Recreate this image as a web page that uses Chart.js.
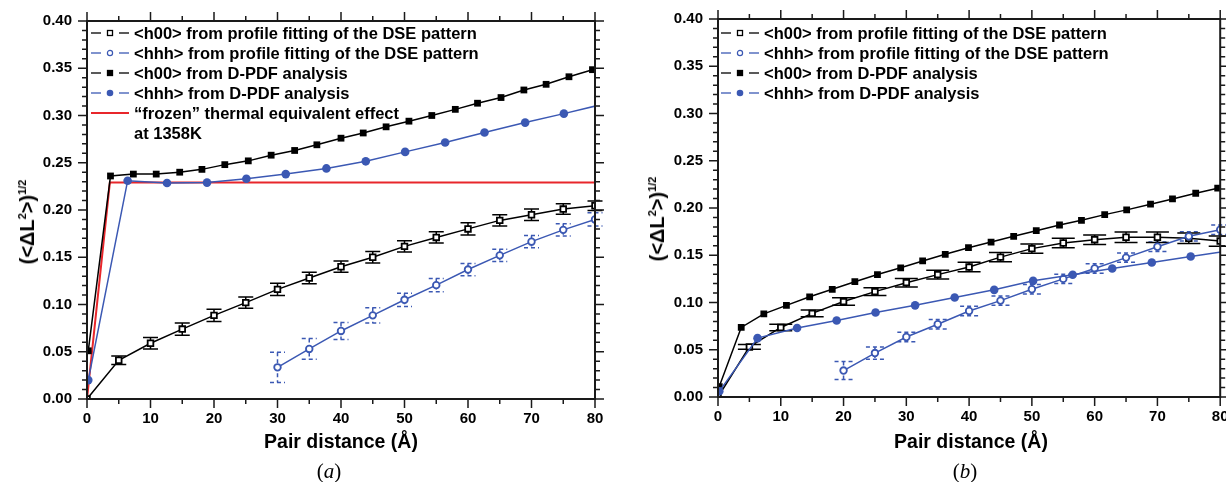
<!DOCTYPE html>
<html lang="en">
<head>
  <meta charset="UTF-8" />
  <title>Pair distance dependence of displacement</title>
  <script src="https://cdn.jsdelivr.net/npm/chart.js"></script>
  <style>
    html, body {
      margin: 0;
      padding: 0;
      background: #fff;
    }

    body {
      position: relative;
      width: 1226px;
      height: 482px;
      overflow: hidden;
      font-family: "Liberation Sans", Arial, sans-serif;
      color: #000;
    }

    .panel {
      position: absolute;
      top: 0;
      height: 482px;
    }

    #panelA { left: 0; width: 610px; }
    #panelB { left: 610px; width: 616px; }

    .legend {
      position: absolute;
      top: 23px;
      font-weight: bold;
      font-size: 16.5px;
    }

    .legend .row {
      display: flex;
      align-items: center;
      height: 20px;
      white-space: nowrap;
    }

    .legend svg {
      flex: none;
      margin-right: 5px;
    }

    .legend .cont {
      padding-left: 43px;
    }

    .ytitle {
      position: absolute;
      font-weight: bold;
      font-size: 20px;
      line-height: 1;
      white-space: nowrap;
      transform: translate(-50%, -50%) rotate(-90deg);
    }

    .ytitle sup {
      font-size: 11px;
      vertical-align: 8px;
    }

    .xtitle {
      position: absolute;
      font-weight: bold;
      font-size: 19.5px;
      white-space: nowrap;
      transform: translate(-50%, -50%);
    }

    .caption {
      position: absolute;
      font-family: "Liberation Serif", "Times New Roman", serif;
      font-size: 21px;
      transform: translate(-50%, -50%);
    }
  </style>
</head>
<body>
  <div class="panel" id="panelA"><canvas id="chartA"></canvas></div>
  <div class="panel" id="panelB"><canvas id="chartB"></canvas></div>

  <div class="legend" id="legendA" style="left:91px"></div>
  <div class="legend" id="legendB" style="left:721px"></div>

  <div class="ytitle" style="left:27px; top:222px">(&lt;&Delta;L<sup>2</sup>&gt;)<sup>1/2</sup></div>
  <div class="ytitle" style="left:657px; top:219px">(&lt;&Delta;L<sup>2</sup>&gt;)<sup>1/2</sup></div>
  <div class="xtitle" style="left:341px; top:441px">Pair distance (Å)</div>
  <div class="xtitle" style="left:971px; top:441px">Pair distance (Å)</div>
  <div class="caption" style="left:329px; top:471px">(<i>a</i>)</div>
  <div class="caption" style="left:965px; top:471px">(<i>b</i>)</div>

  <script>
    // --- panel (a) ---
    const fitDist = [0, 5, 10, 15, 20, 25, 30, 35, 40, 45, 50, 55, 60, 65, 70, 75, 80];
    const h00FitA = [0, 0.041, 0.059, 0.074, 0.0885, 0.102, 0.116, 0.128, 0.140, 0.150, 0.1615, 0.171, 0.180, 0.189, 0.195, 0.201, 0.2045];
    const h00FitErrA = [0, 0.0045, 0.006, 0.0065, 0.0065, 0.006, 0.0065, 0.006, 0.006, 0.006, 0.006, 0.006, 0.0065, 0.006, 0.006, 0.0055, 0.005];

    const hhhFitDistA = [30, 35, 40, 45, 50, 55, 60, 65, 70, 75, 80];
    const hhhFitA = [0.0335, 0.053, 0.072, 0.0885, 0.105, 0.1205, 0.137, 0.152, 0.1665, 0.179, 0.190];
    const hhhFitErrA = [0.016, 0.011, 0.009, 0.008, 0.007, 0.007, 0.0065, 0.0065, 0.0065, 0.0065, 0.007];

    const h00PdfDistA = [0.2, 3.7, 7.3, 10.9, 14.6, 18.1, 21.7, 25.4, 29.0, 32.7, 36.2, 40.0, 43.5, 47.1, 50.7, 54.3, 58.0, 61.5, 65.2, 68.8, 72.3, 75.9, 79.6];
    const h00PdfA = [0.051, 0.236, 0.238, 0.238, 0.240, 0.243, 0.248, 0.252, 0.258, 0.263, 0.269, 0.276, 0.2815, 0.288, 0.294, 0.300, 0.3065, 0.313, 0.319, 0.327, 0.333, 0.341, 0.3485];

    const hhhPdfDistA = [0.2, 6.4, 12.6, 18.9, 25.1, 31.3, 37.7, 43.9, 50.1, 56.4, 62.6, 69.0, 75.1, 81.3];
    const hhhPdfA = [0.020, 0.231, 0.2286, 0.229, 0.233, 0.238, 0.244, 0.2515, 0.2615, 0.2715, 0.282, 0.2925, 0.302, 0.312];

    const frozenDist = [0, 3.6, 80];
    const frozenA = [0, 0.229, 0.229];

    // --- panel (b) ---
    const h00FitB = [0, 0.053, 0.0736, 0.0885, 0.101, 0.1115, 0.121, 0.1295, 0.1375, 0.148, 0.157, 0.163, 0.1665, 0.169, 0.169, 0.168, 0.165];
    const h00FitErrB = [0, 0.0025, 0.0035, 0.0035, 0.004, 0.004, 0.0045, 0.0045, 0.005, 0.005, 0.005, 0.005, 0.005, 0.0055, 0.0055, 0.0055, 0.0055];

    const hhhFitDistB = [20, 25, 30, 35, 40, 45, 50, 55, 60, 65, 70, 75, 80];
    const hhhFitB = [0.028, 0.0465, 0.0635, 0.077, 0.091, 0.102, 0.114, 0.125, 0.136, 0.1475, 0.159, 0.170, 0.177];
    const hhhFitErrB = [0.0095, 0.0065, 0.005, 0.005, 0.005, 0.005, 0.005, 0.005, 0.005, 0.005, 0.005, 0.005, 0.005];

    const h00PdfDistB = [0.2, 3.7, 7.3, 10.9, 14.6, 18.2, 21.8, 25.4, 29.1, 32.6, 36.2, 39.9, 43.5, 47.1, 50.7, 54.4, 57.9, 61.6, 65.1, 68.9, 72.4, 76.1, 79.6];
    const h00PdfB = [0.011, 0.0736, 0.088, 0.097, 0.106, 0.114, 0.122, 0.1296, 0.1367, 0.144, 0.151, 0.158, 0.164, 0.170, 0.176, 0.182, 0.187, 0.193, 0.198, 0.204, 0.2096, 0.2156, 0.221];

    const hhhPdfDistB = [0.2, 6.3, 12.6, 18.9, 25.1, 31.4, 37.7, 44.0, 50.2, 56.5, 62.8, 69.1, 75.3, 81.6];
    const hhhPdfB = [0.006, 0.0623, 0.073, 0.081, 0.0894, 0.097, 0.1053, 0.1134, 0.1229, 0.1293, 0.136, 0.1423, 0.1486, 0.155];

    const legendLabels = [
      '<h00> from profile fitting of the DSE pattern',
      '<hhh> from profile fitting of the DSE pattern',
      '<h00> from D-PDF analysis',
      '<hhh> from D-PDF analysis'
    ];
    const frozenLabel = ['\u201Cfrozen\u201D thermal equivalent effect', 'at 1358K'];

    const BLACK = '#000000';
    const BLUE = '#3b58b3';
    const RED = '#e8262b';
    const FONT = '"Liberation Sans", Arial, sans-serif';

    const pts = (xs, ys) => xs.map((x, i) => ({ x, y: ys[i] }));

    const styles = [
      { color: BLACK, marker: 'rect', filled: false },
      { color: BLUE, marker: 'circle', filled: false },
      { color: BLACK, marker: 'rect', filled: true },
      { color: BLUE, marker: 'circle', filled: true }
    ];

    function seriesSet(s, data, extra) {
      return Object.assign({
        data,
        showLine: true,
        borderColor: s.color,
        borderWidth: 1.5,
        pointStyle: s.marker,
        pointRadius: s.marker === 'rect' ? (s.filled ? 4.8 : 4) : (s.filled ? 4.3 : 3.3),
        pointBorderWidth: s.filled ? 0 : 1.8,
        pointBackgroundColor: s.filled ? s.color : '#fff',
        pointBorderColor: s.color,
        tension: 0
      }, extra || {});
    }

    // error bars under the markers
    const errorBars = {
      id: 'errorBars',
      beforeDatasetsDraw(chart) {
        const { ctx, scales: { x, y } } = chart;
        chart.data.datasets.forEach(ds => {
          if (!ds.errors) return;
          ctx.save();
          ctx.strokeStyle = ds.borderColor;
          ctx.lineWidth = 1.5;
          ctx.setLineDash(ds.errorDash || []);
          ds.data.forEach((p, i) => {
            const e = ds.errors[i];
            if (!e) return;
            const px = x.getPixelForValue(p.x);
            const top = y.getPixelForValue(p.y + e);
            const bot = y.getPixelForValue(p.y - e);
            const w = ds.capWidth / 2;
            ctx.beginPath();
            ctx.moveTo(px, top); ctx.lineTo(px, bot);
            ctx.moveTo(px - w, top); ctx.lineTo(px + w, top);
            ctx.moveTo(px - w, bot); ctx.lineTo(px + w, bot);
            ctx.stroke();
          });
          ctx.restore();
        });
      }
    };

    const isMajorY = v => Math.abs(v * 20 - Math.round(v * 20)) < 1e-6;

    // box frame with outward ticks on all four sides
    const frameTicks = {
      id: 'frameTicks',
      afterDraw(chart) {
        const { ctx, chartArea: a, scales: { x, y } } = chart;
        ctx.save();
        ctx.strokeStyle = '#1a1a1a';
        ctx.lineWidth = 1.5;
        ctx.beginPath();
        x.ticks.forEach(t => {
          const px = x.getPixelForValue(t.value);
          const len = t.value % 10 === 0 ? 9 : 5;
          ctx.moveTo(px, a.bottom); ctx.lineTo(px, a.bottom + len);
          ctx.moveTo(px, a.top); ctx.lineTo(px, a.top - len);
        });
        y.ticks.forEach(t => {
          const py = y.getPixelForValue(t.value);
          const len = isMajorY(t.value) ? 9 : 5;
          ctx.moveTo(a.left, py); ctx.lineTo(a.left - len, py);
          ctx.moveTo(a.right, py); ctx.lineTo(a.right + len, py);
        });
        ctx.stroke();
        ctx.lineWidth = 2;
        ctx.strokeRect(a.left, a.top, a.right - a.left, a.bottom - a.top);
        ctx.restore();
      }
    };

    function buildChart(id, datasets, geo) {
      const tickFont = { family: FONT, size: 15, weight: 'bold' };
      return new Chart(document.getElementById(id), {
        type: 'scatter',
        data: { datasets },
        options: {
          responsive: true,
          maintainAspectRatio: false,
          animation: false,
          events: [],
          layout: { padding: { left: 0, right: geo.right, top: geo.top, bottom: 0 } },
          plugins: { legend: { display: false }, tooltip: { enabled: false } },
          scales: {
            x: {
              type: 'linear', min: 0, max: 80,
              grid: { display: false, drawTicks: false },
              border: { display: false },
              ticks: {
                stepSize: 5, autoSkip: false, maxRotation: 0, maxTicksLimit: 100,
                padding: 11, color: '#000', font: tickFont,
                callback: v => (v % 10 === 0 ? v : '')
              },
              afterFit: s => { s.height = geo.xHeight; s.paddingLeft = 0; s.paddingRight = 0; }
            },
            y: {
              type: 'linear', min: 0, max: 0.4,
              grid: { display: false, drawTicks: false },
              border: { display: false },
              ticks: {
                stepSize: 0.01, autoSkip: false, maxTicksLimit: 100,
                padding: 15, color: '#000', font: tickFont,
                callback: v => (isMajorY(v) ? v.toFixed(2) : '')
              },
              afterFit: s => { s.width = geo.yWidth; s.paddingTop = 0; s.paddingBottom = 0; }
            }
          }
        },
        plugins: [errorBars, frameTicks]
      });
    }

    buildChart('chartA', [
      seriesSet(styles[3], pts(hhhPdfDistA, hhhPdfA)),
      seriesSet(styles[2], pts(h00PdfDistA, h00PdfA)),
      seriesSet(styles[1], pts(hhhFitDistA, hhhFitA), { errors: hhhFitErrA, errorDash: [4, 3], capWidth: 15 }),
      seriesSet(styles[0], pts(fitDist, h00FitA), { errors: h00FitErrA, capWidth: 15 }),
      { data: pts(frozenDist, frozenA), showLine: true, borderColor: RED, borderWidth: 2, pointRadius: 0, tension: 0 }
    ], { right: 15, top: 21, xHeight: 83, yWidth: 87 });

    buildChart('chartB', [
      seriesSet(styles[3], pts(hhhPdfDistB, hhhPdfB)),
      seriesSet(styles[2], pts(h00PdfDistB, h00PdfB)),
      seriesSet(styles[1], pts(hhhFitDistB, hhhFitB), { errors: hhhFitErrB, errorDash: [4, 3], capWidth: 18 }),
      seriesSet(styles[0], pts(fitDist, h00FitB), { errors: h00FitErrB, capWidth: 23 })
    ], { right: 1, top: 19, xHeight: 85, yWidth: 108 });

    // legends (HTML text, small svg samples)
    function sampleSvg(s) {
      if (!s) {
        return '<svg width="38" height="12"><line x1="0" y1="6" x2="38" y2="6" stroke="' + RED + '" stroke-width="2"/></svg>';
      }
      let mark;
      if (s.marker === 'rect') {
        mark = '<rect x="16.5" y="3.5" width="5" height="5" fill="' + (s.filled ? s.color : '#fff') + '" stroke="' + s.color + '" stroke-width="1.3"/>';
      } else {
        mark = s.filled
          ? '<circle cx="19" cy="6" r="3.3" fill="' + s.color + '"/>'
          : '<circle cx="19" cy="6" r="2.6" fill="#fff" stroke="' + s.color + '" stroke-width="1.2"/>';
      }
      return '<svg width="38" height="12">' +
        '<line x1="0" y1="6" x2="10" y2="6" stroke="' + s.color + '" stroke-width="1.3"/>' +
        '<line x1="28" y1="6" x2="38" y2="6" stroke="' + s.color + '" stroke-width="1.3"/>' +
        mark + '</svg>';
    }

    const esc = t => t.replace(/</g, '&lt;').replace(/>/g, '&gt;');

    function fillLegend(id, withFrozen) {
      let html = legendLabels.map((t, i) =>
        '<div class="row">' + sampleSvg(styles[i]) + '<span>' + esc(t) + '</span></div>').join('');
      if (withFrozen) {
        html += '<div class="row">' + sampleSvg(null) + '<span>' + frozenLabel[0] + '</span></div>';
        html += '<div class="row cont"><span>' + frozenLabel[1] + '</span></div>';
      }
      document.getElementById(id).innerHTML = html;
    }

    fillLegend('legendA', true);
    fillLegend('legendB', false);
  </script>
</body>
</html>
